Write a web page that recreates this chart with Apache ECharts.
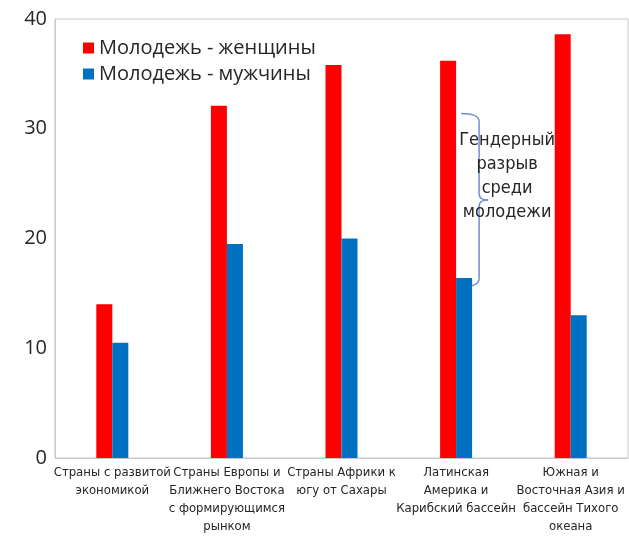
<!DOCTYPE html>
<html><head><meta charset="utf-8">
<script src="https://cdn.jsdelivr.net/npm/echarts@6/dist/echarts.min.js"></script>
<style>html,body{margin:0;padding:0;background:#fff}#c{width:629px;height:537px}</style>
</head><body><div id="c"></div>
<script>
const categories = [
  "Страны с развитой\nэкономикой",
  "Страны Европы и\nБлижнего Востока\nс формирующимся\nрынком",
  "Страны Африки к\nюгу от Сахары",
  "Латинская\nАмерика и\nКарибский бассейн",
  "Южная и\nВосточная Азия и\nбассейн Тихого\nокеана"
];
const seriesNames = ["Молодежь - женщины", "Молодежь - мужчины"];
const women = [14.0, 32.1, 35.8, 36.2, 38.6];
const men = [10.5, 19.5, 20.0, 16.4, 13.0];
const yTicks = [0, 10, 20, 30, 40];
const annotationText = "Гендерный\nразрыв\nсреди\nмолодежи";
const annotationCategory = 3;
const braceRange = [31.4, 15.6];
const annotationTextTop = 30.0;

const chart = echarts.init(document.getElementById('c'));
const textColor = '#262626';
chart.setOption({
  animation: false,
  grid: { left: 55, right: 1, top: 19, bottom: 79, show: true, borderColor: '#c8c8c8', borderWidth: 1 },
  legend: {
    left: 78, top: 33, orient: 'vertical', itemWidth: 11, itemHeight: 11, itemGap: 6,
    icon: 'rect',
    textStyle: { fontFamily: 'Open Sans, sans-serif', fontSize: 20, color: textColor },
    data: seriesNames
  },
  xAxis: {
    type: 'category', data: categories,
    axisLine: { lineStyle: { color: '#c8c8c8' } },
    axisTick: { show: false },
    axisLabel: { interval: 0, margin: 6, lineHeight: 18,
      fontFamily: 'Liberation Sans Narrow, DejaVu Sans Condensed, sans-serif', fontSize: 13, color: textColor }
  },
  yAxis: {
    type: 'value', min: yTicks[0], max: yTicks[yTicks.length - 1], interval: 10,
    splitLine: { show: false },
    axisLine: { show: true, lineStyle: { color: '#c8c8c8' } },
    axisTick: { show: false },
    axisLabel: { margin: 8, fontFamily: 'Open Sans, sans-serif', fontSize: 20, color: textColor }
  },
  series: [
    { name: seriesNames[0], type: 'bar', data: women, barWidth: 16, barGap: '0%', itemStyle: { color: '#FF0000' } },
    { name: seriesNames[1], type: 'bar', data: men, barWidth: 16, barGap: '0%', itemStyle: { color: '#0070C0' } }
  ]
});

const cx = chart.convertToPixel({ xAxisIndex: 0 }, annotationCategory);
const yTop = chart.convertToPixel({ yAxisIndex: 0 }, braceRange[0]);
const yBot = chart.convertToPixel({ yAxisIndex: 0 }, braceRange[1]);
const yMid = (yTop + yBot) / 2;
const yText = chart.convertToPixel({ yAxisIndex: 0 }, annotationTextTop);
const L = cx + 5, R = cx + 23, T = cx + 32;
const braceStyle = { fill: null, stroke: '#6f8fd0', lineWidth: 1.5 };
chart.setOption({
  graphic: [
    { type: 'bezierCurve', shape: { x1: L, y1: yTop, cpx1: R, cpy1: yTop, x2: R, y2: yTop + 8 }, style: braceStyle },
    { type: 'line', shape: { x1: R, y1: yTop + 8, x2: R, y2: yMid - 6 }, style: braceStyle },
    { type: 'bezierCurve', shape: { x1: R, y1: yMid - 6, cpx1: R, cpy1: yMid, x2: T, y2: yMid }, style: braceStyle },
    { type: 'bezierCurve', shape: { x1: T, y1: yMid, cpx1: R, cpy1: yMid, x2: R, y2: yMid + 6 }, style: braceStyle },
    { type: 'line', shape: { x1: R, y1: yMid + 6, x2: R, y2: yBot - 8 }, style: braceStyle },
    { type: 'bezierCurve', shape: { x1: R, y1: yBot - 8, cpx1: R, cpy1: yBot, x2: L, y2: yBot }, style: braceStyle },
    { type: 'text', x: cx + 51, y: yText, style: { text: annotationText, align: 'center', verticalAlign: 'top',
      fontFamily: 'Liberation Sans Narrow, DejaVu Sans Condensed, sans-serif', fontSize: 18, lineHeight: 24, fill: textColor } }
  ]
});
</script></body></html>
